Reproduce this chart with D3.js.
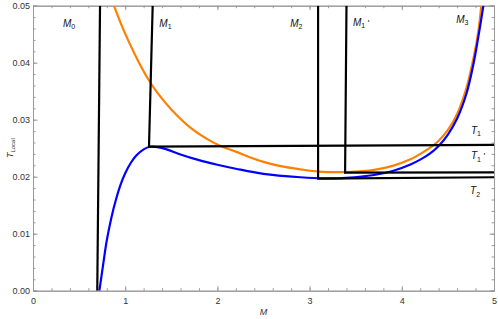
<!DOCTYPE html>
<html><head><meta charset="utf-8">
<script src="https://cdn.jsdelivr.net/npm/d3@7"></script>
<style>body{margin:0;background:#fff}svg{display:block}text{font-family:"Liberation Sans",Arial,sans-serif}</style>
</head><body><svg id="c" width="498" height="319"></svg>
<script>
// Blue curve (M, T)
const blueM = [0.72,0.76,0.80,0.85,0.90,0.95,1.00,1.06,1.12,1.20,1.27,1.35,1.45,1.6,1.8,2.0,2.2,2.5,2.9,3.15,3.4,3.7,3.9,4.1,4.2,4.3,4.4,4.5,4.6,4.7,4.78,4.84,4.885];
const blueT = [0,0.0045,0.0088,0.0128,0.0160,0.0186,0.0206,0.0224,0.0237,0.0248,0.02525,0.0252,0.0248,0.0239,0.0229,0.0221,0.0214,0.0205,0.0199,0.0197,0.0198,0.0203,0.0210,0.0222,0.0230,0.0240,0.0254,0.0274,0.0302,0.0345,0.0400,0.0455,0.05];
// Orange curve (M, T)
const orangeM = [0.878,0.95,1.05,1.15,1.25,1.35,1.5,1.7,1.9,2.045,2.2,2.35,2.5,2.7,2.9,3.1,3.3,3.5,3.7,3.9,4.1,4.2,4.3,4.4,4.5,4.6,4.7,4.78,4.83,4.862];
const orangeT = [0.05,0.0470,0.0433,0.0400,0.0371,0.0347,0.0318,0.0287,0.0265,0.0253,0.0244,0.0234,0.0226,0.0218,0.0213,0.0209,0.0208,0.0209,0.0212,0.0219,0.0231,0.0240,0.0250,0.0263,0.0282,0.0310,0.0355,0.0410,0.0455,0.05];
// Black construction lines
const lineNames = ["M0","M1","M2","M1p"];
const lineM = [[0.697,0.727],[1.298,1.258,5],[3.092,3.092,5],[3.40,3.385,5]];
const lineT = [[0,0.05],[0.05,0.02526,0.0256],[0.05,0.01965,0.0199],[0.05,0.0207,0.02077]];
// Annotations
const annText = ["M|0","M|1","M|2","M|1|'","M|3","T|1","T|1|'","T|2"];
const annM = [0.325,1.37,2.79,3.47,4.59,4.75,4.75,4.74];
const annT = [0.0463,0.0463,0.0463,0.0465,0.047,0.0275,0.0231,0.0169];
const xTicks = [0,1,2,3,4,5];
const yTicks = [0,0.01,0.02,0.03,0.04,0.05];

const svg = d3.select("#c");
const L=33, R=494, T=5.7, B=290.7;
const x = d3.scaleLinear().domain([0,5]).range([L,R]);
const y = d3.scaleLinear().domain([0,0.05]).range([B,T]);

svg.append("defs").append("clipPath").attr("id","clip").append("rect")
  .attr("x",L).attr("y",T).attr("width",R-L).attr("height",B-T);

const gray="#999";
const xMinor = d3.range(0,5.001,0.2);
const yMinor = d3.range(0,0.05001,0.002);
function ax(axis, tr){ const g=svg.append("g").attr("transform",tr).call(axis);
  g.select(".domain").attr("stroke",gray).attr("stroke-width",1);
  g.selectAll(".tick line").attr("stroke",gray);
  g.selectAll(".tick text").attr("fill","#333").style("font-size","9px"); return g;}
ax(d3.axisBottom(x).tickValues(xMinor).tickSize(-2.5).tickFormat(""),`translate(0,${B})`);
ax(d3.axisBottom(x).tickValues(xTicks).tickSize(-4.5).tickPadding(7).tickFormat(d3.format("d")),`translate(0,${B})`);
ax(d3.axisTop(x).tickValues(xMinor).tickSize(-2.5).tickFormat(""),`translate(0,${T})`);
ax(d3.axisTop(x).tickValues(xTicks).tickSize(-4.5).tickFormat(""),`translate(0,${T})`);
ax(d3.axisLeft(y).tickValues(yMinor).tickSize(-2.5).tickFormat(""),`translate(${L},0)`);
ax(d3.axisLeft(y).tickValues(yTicks).tickSize(-4.5).tickPadding(3).tickFormat(d3.format(".2f")),`translate(${L},0)`);
ax(d3.axisRight(y).tickValues(yMinor).tickSize(-2.5).tickFormat(""),`translate(${R},0)`);
ax(d3.axisRight(y).tickValues(yTicks).tickSize(-4.5).tickFormat(""),`translate(${R},0)`);

const plot = svg.append("g").attr("clip-path","url(#clip)");
const curve = d3.line().x(d=>x(d[0])).y(d=>y(d[1])).curve(d3.curveCatmullRom.alpha(0.5));
plot.append("path").attr("d",curve(orangeM.map((m,i)=>[m,orangeT[i]])))
  .attr("fill","none").attr("stroke","#ff8000").attr("stroke-width",2.2);
plot.append("path").attr("d",curve(blueM.map((m,i)=>[m,blueT[i]])))
  .attr("fill","none").attr("stroke","#0000ff").attr("stroke-width",2.2);
const poly = d3.line().x(d=>x(d[0])).y(d=>y(d[1]));
lineNames.forEach((n,k)=>{
  plot.append("path").attr("d",poly(lineM[k].map((m,i)=>[m,lineT[k][i]])))
   .attr("fill","none").attr("stroke","#000").attr("stroke-width",2.2).attr("stroke-linejoin","miter");
});

annText.forEach((s,i)=>{
  const p=s.split("|");
  const t=svg.append("text").attr("x",x(annM[i])).attr("y",y(annT[i])).style("font-size","10px").attr("fill","#111");
  t.append("tspan").text(p[0]).style("font-style","italic");
  t.append("tspan").text(p[1]).attr("dy",2.5).style("font-size","7px");
  if(p[2]) t.append("tspan").text(" '").attr("dy",-2.5).style("font-size","9px");
});
svg.append("text").attr("x",(L+R)/2).attr("y",315).attr("text-anchor","middle")
  .style("font-size","9px").style("font-style","italic").attr("fill","#333").text("M");
const yl=svg.append("text").attr("transform",`translate(13,${(T+B)/2}) rotate(-90)`).attr("text-anchor","middle")
  .style("font-size","9px").attr("fill","#333");
yl.append("tspan").text("T").style("font-style","italic");
yl.append("tspan").text("Local").attr("dy",2).style("font-size","6px");
</script></body></html>
